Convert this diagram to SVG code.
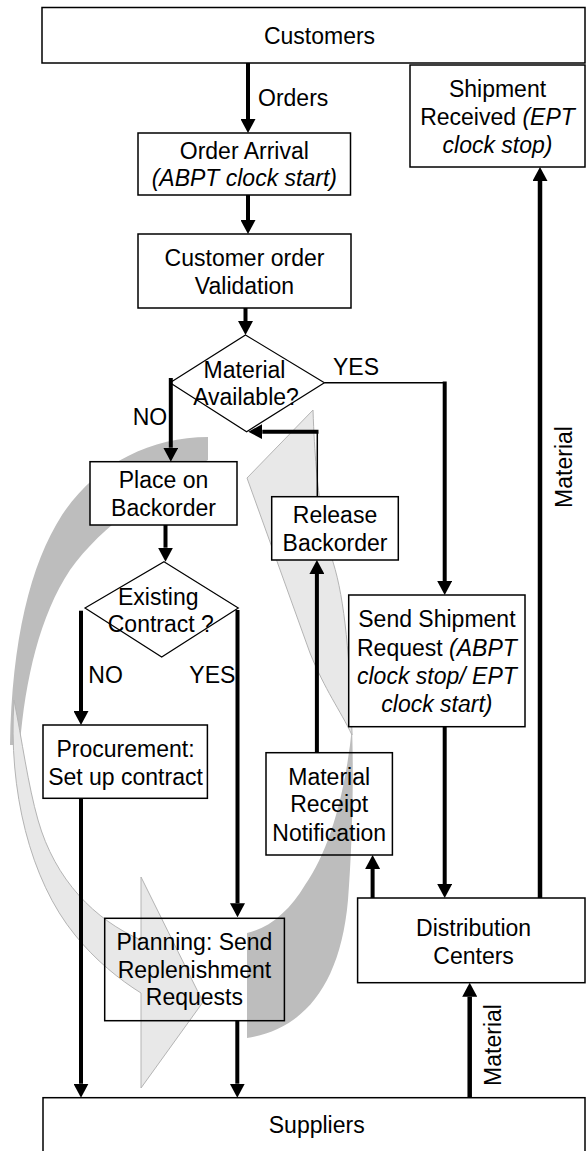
<svg xmlns="http://www.w3.org/2000/svg" width="586" height="1151" viewBox="0 0 586 1151">
<defs>
<style>
.box{fill:#fff;stroke:#000;stroke-width:1.5}
.clear{fill:none;stroke:#000;stroke-width:1.5}
.dia{fill:#fff;stroke:#000;stroke-width:1.2}
.t{font-family:"Liberation Sans",Arial,sans-serif;font-size:23px;fill:#000;text-anchor:middle}
.s{text-anchor:start}
.i{font-style:italic}
.thick{stroke:#000;stroke-width:4;fill:none;marker-end:url(#ah)}
.thick2{stroke:#000;stroke-width:4.5;fill:none;marker-end:url(#ah)}
.thin{stroke:#000;stroke-width:1.5;fill:none}
.dark{fill:#bdbdbd;stroke:none}
.light{fill:#e8e8e8;stroke:#b4b4b4;stroke-width:1}
</style>
<marker id="ah" viewBox="0 -7.5 14 15" refX="0" refY="0" markerWidth="14" markerHeight="15" markerUnits="userSpaceOnUse" orient="auto">
<path d="M0,-7.5 L14,0 L0,7.5 Z" fill="#000"/>
</marker>
</defs>
<rect width="586" height="1151" fill="#fff"/>

<g id="cycle">
<path class="dark" d="M208,437 C150,437 95,465 62,515 C30,565 12,640 10,745 L20,745 C25,680 40,615 70,570 C100,528 150,492 208,460 Z"/>
<path class="light" d="M14,700 C8,790 30,880 75,935 C95,960 120,980 141,993 L141,1088 L203,1002 L141,877 L141,940 C95,920 55,880 38,820 C28,785 22,740 14,700 Z"/>
<path class="dark" d="M247,1038 C300,1030 340,990 348,900 C352,850 354,780 352,727 C346,790 330,850 305,885 C290,910 270,928 247,933 Z"/>
<path class="light" d="M352,735 C350,660 345,600 333,562 C325,535 316,500 313,410 L247,478 L310,653 C325,690 340,710 352,735 Z"/>
</g>

<g id="customers">
<rect class="box" x="42" y="7.5" width="543" height="55.5"/>
<text class="t" x="319.5" y="44">Customers</text>
</g>
<g id="shipment-received">
<rect class="box" x="410" y="65" width="175" height="102"/>
<text class="t" x="497.5" y="97">Shipment</text>
<text class="t" x="497.5" y="125">Received <tspan class="i">(EPT</tspan></text>
<text class="t i" x="497.5" y="153">clock stop)</text>
</g>
<g id="order-arrival">
<rect class="box" x="138" y="133" width="212.5" height="62"/>
<text class="t" x="244.3" y="159">Order Arrival</text>
<text class="t i" x="244.3" y="186">(ABPT clock start)</text>
</g>
<g id="validation">
<rect class="box" x="138" y="234" width="213" height="74"/>
<text class="t" x="244.5" y="266">Customer order</text>
<text class="t" x="244.5" y="294">Validation</text>
</g>
<g id="material-available">
<polygon class="dia" points="245.5,335 324.4,382.7 246.6,431.7 170,382.7"/>
<text class="t" x="244.5" y="378">Material</text>
<text class="t" x="246" y="405">Available?</text>
</g>
<g id="place-backorder">
<rect class="box" x="90" y="461.7" width="147" height="63.3"/>
<text class="t" x="163.5" y="487.5">Place on</text>
<text class="t" x="163.5" y="515.5">Backorder</text>
</g>
<g id="existing-contract">
<polygon class="dia" points="164,561.7 238.3,608 161.7,657 85,608"/>
<text class="t" x="158.3" y="604.5">Existing</text>
<text class="t" x="160.8" y="631.7">Contract ?</text>
</g>
<g id="release-backorder">
<rect class="box" x="271.7" y="496.7" width="126.6" height="63.3"/>
<text class="t" x="335" y="523.3">Release</text>
<text class="t" x="335" y="550.7">Backorder</text>
</g>
<g id="send-shipment">
<rect class="box" x="348.7" y="595" width="176.3" height="131.7"/>
<text class="t" x="436.9" y="627.3">Send Shipment</text>
<text class="t" x="436.9" y="655.5">Request <tspan class="i">(ABPT</tspan></text>
<text class="t i" x="436.9" y="684">clock stop/ EPT</text>
<text class="t i" x="436.9" y="712.3">clock start)</text>
</g>
<g id="procurement">
<rect class="box" x="43" y="725" width="164.4" height="73.3"/>
<text class="t" x="125.5" y="757.3">Procurement:</text>
<text class="t" x="125.5" y="785">Set up contract</text>
</g>
<g id="material-receipt">
<rect class="clear" x="266" y="752.7" width="126.4" height="102.3"/>
<text class="t" x="329.2" y="785">Material</text>
<text class="t" x="329.2" y="812.3">Receipt</text>
<text class="t" x="329.2" y="840.7">Notification</text>
</g>
<g id="distribution-centers">
<rect class="box" x="357.6" y="898" width="227.4" height="84.7"/>
<text class="t" x="473.6" y="936">Distribution</text>
<text class="t" x="473.6" y="964">Centers</text>
</g>
<g id="planning">
<rect class="clear" x="104.7" y="918.3" width="179.7" height="102.4"/>
<text class="t" x="194.4" y="950">Planning: Send</text>
<text class="t" x="194.4" y="978.3">Replenishment</text>
<text class="t" x="194.4" y="1005">Requests</text>
</g>
<g id="suppliers">
<rect class="box" x="43" y="1097.7" width="542" height="70"/>
<text class="t" x="316.7" y="1133.3">Suppliers</text>
</g>

<g id="connectors">
<path class="thick" d="M248,63 V119"/>
<path class="thick" d="M248,195 V220"/>
<path class="thick" d="M245.5,308 V321"/>
<path class="thick" d="M170.8,378 V447.7"/>
<path class="thin" d="M324.4,382.7 H445"/>
<path class="thick" d="M444.7,381.5 V581"/>
<path class="thin" d="M317.3,496.7 V431.7"/>
<path class="thick" d="M318.5,431.7 H262.3"/>
<path class="thick" d="M165.5,525 V547.7"/>
<path class="thick" d="M81,610.7 V711"/>
<path class="thick" d="M237.5,610 V903.3"/>
<path class="thick" d="M81,798.3 V1083.7"/>
<path class="thick" d="M237.3,1020.7 V1083.7"/>
<path class="thick" d="M444.7,726.7 V884"/>
<path class="thick" d="M372.6,898 V869"/>
<path class="thick" d="M316.9,752.7 V574"/>
<path class="thick2" d="M469.7,1097.7 V996.7"/>
<path class="thick2" d="M540,898 V181"/>
<text class="t s" x="258" y="106">Orders</text>
<text class="t s" x="333" y="375">YES</text>
<text class="t s" x="132.7" y="425">NO</text>
<text class="t s" x="88.3" y="683.3">NO</text>
<text class="t s" x="189.3" y="683.3">YES</text>
<text class="t" transform="translate(572,467) rotate(-90)">Material</text>
<text class="t" transform="translate(500.8,1045) rotate(-90)">Material</text>
</g>
</svg>
